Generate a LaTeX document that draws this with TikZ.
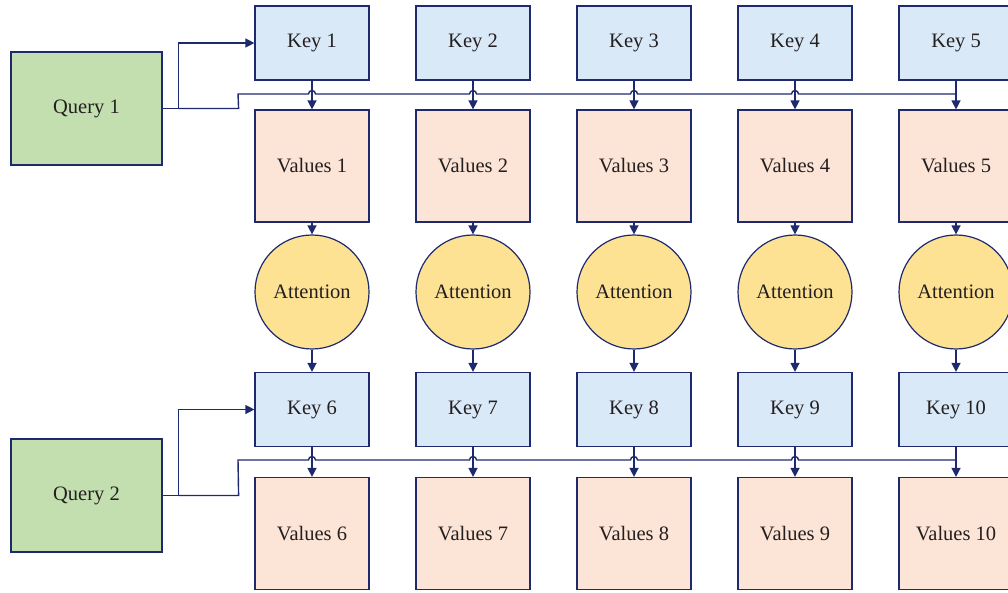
\documentclass[tikz,border=0pt]{standalone}
\usepackage{fontspec}
\setmainfont{Liberation Serif}
\usetikzlibrary{arrows.meta,calc}
\definecolor{edge}{HTML}{1F2A6E}
\definecolor{keyfill}{HTML}{DAE9F7}
\definecolor{valfill}{HTML}{FCE4D6}
\definecolor{attfill}{HTML}{FDE293}
\definecolor{qfill}{HTML}{C3DFB0}
\definecolor{txt}{HTML}{231F20}
\begin{document}
\begin{tikzpicture}[x=1pt,y=1pt,
  base/.style={draw=edge,line width=1.2pt,inner sep=0pt,text=txt,font=\fontsize{20.5}{23}\selectfont},
  keybox/.style={base,rectangle,fill=keyfill,minimum width=114pt,minimum height=74pt},
  valbox/.style={base,rectangle,fill=valfill,minimum width=114pt,minimum height=112pt},
  attn/.style={base,circle,fill=attfill,minimum size=114pt},
  qbox/.style={base,rectangle,fill=qfill,minimum width=151pt,minimum height=113pt},
  wire/.style={draw=edge,line width=1.4pt},
  arr/.style={wire,-{Triangle[length=9pt,width=9pt]}}]
\useasboundingbox (0,0) rectangle (1008,592);
\clip (0,0) rectangle (1008,592);
\node[qbox] (q1) at (86.5,483.5) {Query 1};
\node[qbox] (q2) at (86.5,96.5) {Query 2};
\foreach \i/\x in {1/312,2/473,3/634,4/795,5/956}{
  \pgfmathtruncatemacro{\j}{\i+5}
  \node[keybox] (k\i) at (\x,549) {Key \i};
  \node[valbox] (v\i) at (\x,426) {Values \i};
  \node[attn] (a\i) at (\x,300) {Attention};
  \node[keybox] (k\j) at (\x,182.5) {Key \j};
  \node[valbox] (v\j) at (\x,58.5) {Values \j};
  \draw[arr] (k\i) -- (v\i);
  \draw[arr] (v\i) -- (a\i);
  \draw[arr] (a\i) -- (k\j);
  \draw[arr] (k\j) -- (v\j);
}
% Query 1 connectors
\draw[arr] (q1.east) -- ++(16,0) coordinate (j1) |- (k1.west);
\draw[wire] (j1) -- ++(60,0) -- (238,498)
  \foreach \x in {312,473,634,795}{ -- (\x-3.5,498) arc[start angle=180,end angle=0,radius=3.5] }
  -- (956,498);
% Query 2 connectors
\draw[arr] (q2.east) -- ++(16,0) coordinate (j2) |- (k6.west);
\draw[wire] (j2) -- ++(60,0) -- (238,132)
  \foreach \x in {312,473,634,795}{ -- (\x-3.5,132) arc[start angle=180,end angle=0,radius=3.5] }
  -- (956,132);
\end{tikzpicture}
\end{document}
